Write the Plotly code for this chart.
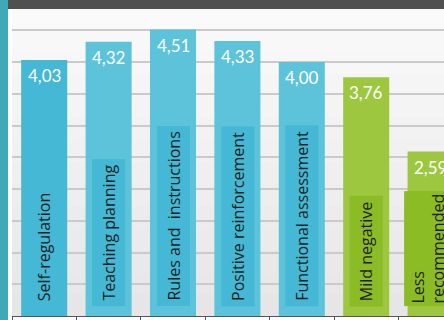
import plotly.graph_objects as go

categories = ["Self-regulation", "Teaching planning", "Rules and  instructions",
              "Positive reinforcement", "Functional assessment", "Mild negative",
              "Less<br>recommended"]
values = [4.03, 4.32, 4.51, 4.33, 4.00, 3.76, 2.59]
value_labels = ["4,03", "4,32", "4,51", "4,33", "4,00", "3,76", "2,59"]
groups = ["blue", "blue", "blue", "blue", "blue", "green", "green"]

BAR = {"blue": "#5cc3da", "green": "#9dc73f"}
BOX = {"blue": "#44b8d4", "green": "#8cbc25"}
bar_colors = [BOX[g] if i == 0 else BAR[g] for i, g in enumerate(groups)]

W, H = 444, 320
ML, MR, MT, MB = 12, 0, 9, 4
PW, PH = W - ML - MR, H - MT - MB
px_per_cat = 64.4
px_per_unit = 63.5

fig = go.Figure()
fig.add_trace(go.Bar(
    x=list(range(len(categories))), y=values,
    marker=dict(color=bar_colors, line=dict(width=0)),
    width=0.715, hoverinfo="skip", showlegend=False,
))

annotations = []
for i, (v, lab, g) in enumerate(zip(values, value_labels, groups)):
    annotations.append(dict(
        x=i, y=v, xref="x", yref="y", text=lab, showarrow=False,
        yanchor="top", xanchor="center", yshift=-3,
        font=dict(family="Lato", size=17, color="white"),
    ))
    multi = "<br>" in categories[i]
    annotations.append(dict(
        x=i, y=0, xref="x", yref="y", text=categories[i], showarrow=False,
        textangle=-90, yanchor="bottom", xanchor="center", yshift=9,
        xshift=-3 if multi else 0,
        align="left", bgcolor=BOX[g], borderpad=5 if not multi else 2,
        font=dict(family="Open Sans", size=16, color="#1e1e1e"),
    ))

# background gradient bands
shapes = []
n = 14
top_c = (250, 250, 250)
bot_c = (230, 230, 230)
for k in range(n):
    t = k / (n - 1)
    c = tuple(round(top_c[j] + (bot_c[j] - top_c[j]) * t) for j in range(3))
    shapes.append(dict(
        type="rect", xref="paper", yref="paper", layer="below",
        x0=0, x1=1, y0=1 - (k + 1) / n, y1=1 - k / n,
        fillcolor="rgb(%d,%d,%d)" % c, line=dict(width=0),
    ))
# teal strip on the left and dark header bar
shapes.append(dict(type="rect", xref="paper", yref="paper", layer="above",
                   x0=-ML / PW, x1=-4 / PW, y0=-MB / PH, y1=1 + MT / PH,
                   fillcolor="#3ea9b7", line=dict(width=0)))
shapes.append(dict(type="rect", xref="paper", yref="paper", layer="above",
                   x0=-4 / PW, x1=1, y0=1, y1=1 + MT / PH,
                   fillcolor="#505050", line=dict(width=0)))

fig.update_layout(
    width=W, height=H,
    margin=dict(l=ML, r=MR, t=MT, b=MB, pad=0),
    paper_bgcolor="white", plot_bgcolor="#eeeeee",
    annotations=annotations, shapes=shapes,
    xaxis=dict(
        type="linear", range=[-0.5, -0.5 + PW / px_per_cat],
        tickvals=[i + 0.5 for i in range(-1, len(categories))],
        showticklabels=False, ticks="outside", ticklen=5, tickcolor="#555555",
        showgrid=False, zeroline=False, showline=True, linecolor="#555555",
        linewidth=1, fixedrange=True,
    ),
    yaxis=dict(
        range=[0, PH / px_per_unit], dtick=0.5, tick0=0,
        showticklabels=False, showgrid=True, gridcolor="#cacaca", gridwidth=1.5,
        zeroline=False, showline=False, fixedrange=True,
    ),
)

fig.write_html("out.html", config={"displayModeBar": False},
               post_script="document.body.style.margin='0';document.body.style.overflow='hidden';")
